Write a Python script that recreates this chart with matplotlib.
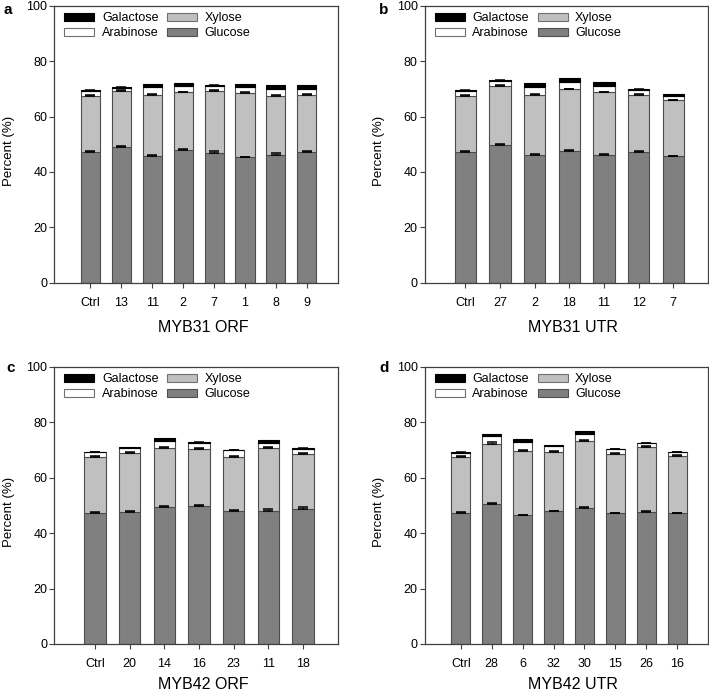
import matplotlib
matplotlib.use("Agg")
import matplotlib.pyplot as plt
from matplotlib.patches import Patch
import numpy as np

plt.rcParams["font.family"] = ["Liberation Sans", "DejaVu Sans"]

# ── Colours ────────────────────────────────────────────────────────────────────
C_GLU = "#808080"
C_XYL = "#c0c0c0"
C_ARA = "#ffffff"
C_GAL = "#000000"
EDGE = "#4d4d4d"
SPINE = "#404040"

# ── Data (segment heights, % of cell wall) ─────────────────────────────────────
a_labels = ["Ctrl", "13", "11", "2", "7", "1", "8", "9"]
a_glu = [47.3, 49.0, 45.6, 47.9, 46.9, 45.3, 46.1, 47.1]
a_xyl = [20.2, 20.3, 22.2, 20.9, 22.2, 23.2, 21.2, 20.8]
a_ara = [1.8, 1.1, 2.7, 2.1, 2.0, 2.0, 2.7, 2.0]
a_gal = [0.2, 0.2, 1.4, 1.2, 0.2, 1.1, 1.5, 1.4]
a_glu_err = [0.4, 0.3, 0.4, 0.3, 0.6, 0.2, 0.9, 0.5]
a_xyl_err = [0.3, 0.3, 0.2, 0.2, 0.3, 0.3, 0.3, 0.4]
a_ara_err = [0.2, 0.2, 0.1, 0.1, 0.1, 0.1, 0.1, 0.1]

b_labels = ["Ctrl", "27", "2", "18", "11", "12", "7"]
b_glu = [47.3, 49.8, 46.0, 47.5, 46.2, 47.2, 45.6]
b_xyl = [20.2, 21.3, 21.9, 22.3, 22.5, 20.6, 20.2]
b_ara = [1.8, 1.8, 2.9, 2.5, 2.4, 1.9, 1.7]
b_gal = [0.2, 0.2, 1.4, 1.5, 1.2, 0.2, 0.6]
b_glu_err = [0.4, 0.4, 0.3, 0.3, 0.3, 0.2, 0.2]
b_xyl_err = [0.3, 0.3, 0.3, 0.3, 0.2, 0.2, 0.3]
b_ara_err = [0.2, 0.1, 0.1, 0.1, 0.1, 0.1, 0.2]

c_labels = ["Ctrl", "20", "14", "16", "23", "11", "18"]
c_glu = [47.2, 47.6, 49.4, 49.9, 48.0, 48.1, 48.8]
c_xyl = [20.3, 21.4, 21.2, 20.5, 19.5, 22.6, 19.8]
c_ara = [1.6, 1.7, 2.5, 2.1, 2.3, 1.8, 1.8]
c_gal = [0.2, 0.2, 1.1, 0.3, 0.3, 1.1, 0.2]
c_glu_err = [0.4, 0.2, 0.2, 0.4, 0.2, 0.4, 0.6]
c_xyl_err = [0.3, 0.3, 0.3, 0.3, 0.3, 0.3, 0.3]
c_ara_err = [0.2, 0.1, 0.1, 0.2, 0.2, 0.1, 0.1]

d_labels = ["Ctrl", "28", "6", "32", "30", "15", "26", "16"]
d_glu = [47.2, 50.6, 46.4, 47.8, 49.2, 47.1, 47.5, 47.1]
d_xyl = [20.2, 21.6, 23.2, 21.4, 23.9, 21.5, 23.5, 20.8]
d_ara = [1.6, 2.9, 3.1, 2.1, 2.5, 1.6, 1.4, 1.2]
d_gal = [0.2, 0.6, 1.2, 0.6, 1.3, 0.2, 0.2, 0.2]
d_glu_err = [0.4, 0.2, 0.2, 0.3, 0.2, 0.3, 0.4, 0.3]
d_xyl_err = [0.3, 0.6, 0.3, 0.3, 0.3, 0.3, 0.3, 0.3]
d_ara_err = [0.2, 0.2, 0.1, 0.2, 0.1, 0.2, 0.1, 0.1]

FIG_W, FIG_H, DPI = 7.09, 6.95, 100


def draw_panel(ax, labels, glu, xyl, ara, gal, glu_err, xyl_err, ara_err,
               xlabel, xlab_y):
    x = np.arange(len(labels))
    glu = np.array(glu)
    xyl = np.array(xyl)
    ara = np.array(ara)
    gal = np.array(gal)
    w = 0.62
    kw = dict(width=w, edgecolor=EDGE, linewidth=0.8, zorder=2)
    ax.bar(x, glu, color=C_GLU, **kw)
    ax.bar(x, xyl, bottom=glu, color=C_XYL, **kw)
    ax.bar(x, ara, bottom=glu + xyl, color=C_ARA, **kw)
    ax.bar(x, gal, bottom=glu + xyl + ara, color=C_GAL, edgecolor=C_GAL,
           width=w, linewidth=0.8, zorder=2)

    zeros = np.zeros(len(labels))
    for top, err in [(glu, glu_err), (glu + xyl, xyl_err), (glu + xyl + ara, ara_err)]:
        ax.errorbar(x, top, yerr=[zeros, err], fmt="none", ecolor="black",
                    elinewidth=0.7, capsize=3.5, capthick=1.1, zorder=3)

    ax.set_xlim(-1.17, len(labels))
    ax.set_ylim(0, 100)
    ax.set_yticks(range(0, 101, 20))
    ax.set_xticks(x)
    ax.set_xticklabels(labels)
    ax.tick_params(axis="x", direction="out", length=3.5, width=0.8,
                   pad=6.5, labelsize=9, color=SPINE)
    ax.tick_params(axis="y", direction="out", length=3.5, width=0.8,
                   pad=1.5, labelsize=9, color=SPINE)
    for sp in ax.spines.values():
        sp.set_color(SPINE)
        sp.set_linewidth(0.9)

    # axis titles sit slightly off-centre in the original
    ax.set_xlabel(xlabel, fontsize=11.5, va="top")
    ax.xaxis.set_label_coords(0.525, xlab_y)
    ax.set_ylabel("Percent (%)", fontsize=9.5)
    ax.yaxis.set_label_coords(-0.14, 0.475)

    handles = [
        Patch(facecolor=C_GAL, edgecolor=C_GAL, linewidth=0.8, label="Galactose"),
        Patch(facecolor=C_ARA, edgecolor="#707070", linewidth=0.8, label="Arabinose"),
        Patch(facecolor=C_XYL, edgecolor="#707070", linewidth=0.8, label="Xylose"),
        Patch(facecolor=C_GLU, edgecolor="#505050", linewidth=0.8, label="Glucose"),
    ]
    ax.legend(handles=handles, ncol=2, loc="upper left", frameon=False,
              fontsize=9, handlelength=2.4, handleheight=0.65,
              handletextpad=0.6, columnspacing=0.7, labelspacing=0.25,
              borderaxespad=0.0, bbox_to_anchor=(0.018, 0.995))


fig = plt.figure(figsize=(FIG_W, FIG_H), dpi=DPI)
fig.patch.set_facecolor("white")

ax_a = fig.add_axes([0.0766, 0.5932, 0.3997, 0.3986])
ax_b = fig.add_axes([0.5990, 0.5932, 0.3996, 0.3986])
ax_c = fig.add_axes([0.0766, 0.0734, 0.3997, 0.3990])
ax_d = fig.add_axes([0.5990, 0.0734, 0.3996, 0.3990])

draw_panel(ax_a, a_labels, a_glu, a_xyl, a_ara, a_gal,
           a_glu_err, a_xyl_err, a_ara_err, "MYB31 ORF", -0.136)
draw_panel(ax_b, b_labels, b_glu, b_xyl, b_ara, b_gal,
           b_glu_err, b_xyl_err, b_ara_err, "MYB31 UTR", -0.136)
draw_panel(ax_c, c_labels, c_glu, c_xyl, c_ara, c_gal,
           c_glu_err, c_xyl_err, c_ara_err, "MYB42 ORF", -0.12)
draw_panel(ax_d, d_labels, d_glu, d_xyl, d_ara, d_gal,
           d_glu_err, d_xyl_err, d_ara_err, "MYB42 UTR", -0.12)

# panel letters
for letter, px, py in [("a", 3, 13.5), ("b", 379, 13.5),
                       ("c", 6, 371.7), ("d", 379, 371.7)]:
    fig.text(px / 709, 1 - py / 695, letter, fontsize=11, fontweight="bold",
             ha="left", va="baseline")

fig.savefig("out.png", dpi=DPI, facecolor="white")
plt.close(fig)
